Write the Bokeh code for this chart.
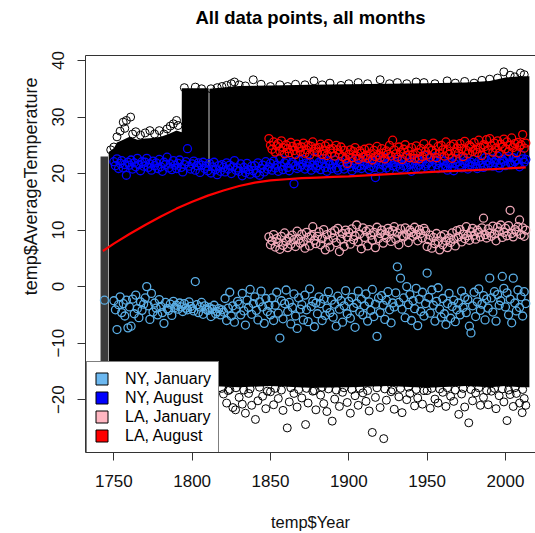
import math
from bokeh.plotting import figure
from bokeh.models import (Range1d, LinearAxis, FixedTicker, Legend,
                          LegendItem, Title)
from bokeh.embed import file_html
from bokeh.resources import INLINE

# ---------------- data ----------------
x_ticks = [1750, 1800, 1850, 1900, 1950, 2000]
y_ticks = [-20, -10, 0, 10, 20, 30, 40]

ny_jan_years = [1744] + list(range(1750, 2014))
ny_jan = [-2.4,
    -2.5, -4.1, -7.6, -3.2, -1.8, -4.6, -3.0, -5.2, -2.4, -7.3,
    -3.6, -7.0, -2.2, -4.8, -1.5, -3.9, -5.5, -2.7, -4.2, -3.1,
    -2.0, 0.0, -3.4, -5.8, -1.2, -4.5, -2.9, -3.8, -5.0, -2.3,
    -3.5, -4.6, -6.5, -2.8, -3.9, -4.2, -3.1, -5.1, -2.6, -3.7,
    -3.3, -4.0, -2.9, -3.6, -4.4, -3.0, -3.8, -4.1, -2.7, -3.5,
    -3.9, -4.3, 0.9, -3.2, -4.6, -3.6, -2.8, -4.9, -3.4, -4.0,
    -4.2, -3.7, -5.3, -4.0, -3.3, -4.8, -4.4, -3.9, -5.0, -4.1,
    -4.5, -2.1, -6.0, -3.8, -1.0, -5.2, -3.4, -6.3, -4.0, -2.6,
    -3.1, -5.0, -1.2, -4.3, -6.8, -2.4, -3.7, -0.5, -4.9, -3.0,
    -1.8, -4.2, -5.9, -2.7, -0.8, -3.6, -6.5, -2.1, -4.4, -3.3,
    -5.0, -2.0, -6.0, -3.3, -1.0, -4.7, -9.1, -2.5, -5.7, -3.0,
    -0.6, -4.4, -2.8, -6.6, -3.7, -1.3, -5.2, -7.4, -2.0, -4.0,
    -3.2, -5.9, -1.5, -4.1, -6.2, -0.4, -3.5, -2.6, -7.1, -2.9,
    -4.8, -1.8, -3.0, -6.0, -2.2, -5.1, -3.8, -0.9, -4.6, -2.4,
    -5.4, -3.1, -7.0, -1.7, -4.0, -2.5, -6.3, -3.4, -0.7, -4.8,
    -2.6, -5.6, -1.9, -3.7, -7.2, -3.0, -0.8, -4.5, -2.2, -5.0,
    -3.4, -1.3, -6.1, -2.7, -4.2, -0.5, -5.3, -3.1, -8.8, -2.0,
    -4.6, -1.6, -3.3, -5.8, -2.4, -0.9, -4.1, -6.4, -2.9, -3.6,
    -1.1, 3.5, -2.8, 1.5, -4.0, -2.0, -5.5, 0.0, -3.2, -1.4,
    -6.0, -2.5, -3.9, -0.3, -6.9, -2.2, -4.4, -1.0, -5.2, -3.0,
    2.4, -1.9, -4.7, -0.6, -3.3, -6.1, -2.6, -0.2, -4.0, -5.4,
    -2.1, -4.8, -6.7, -3.0, -1.2, -5.6, -3.5, -2.4, -6.2, -4.1,
    -2.9, -5.0, -0.8, -3.7, -1.9, -4.6, -2.3, -7.0, -8.2, -3.4,
    -1.0, -5.3, -2.7, -0.4, -4.2, -3.1, -1.6, -5.9, -2.2, -3.8,
    1.5, -2.0, -4.5, -0.9, -6.1, -1.4, -3.3, -2.5, 1.8, -0.3,
    -3.6, -1.1, -5.0, -2.2, -6.4, 1.5, -2.9, -4.3, -0.6, -3.7,
    -1.8, -5.2, -0.9, -3.0]

ny_aug_years = list(range(1750, 2014))
ny_aug = [
    22.1, 21.4, 22.6, 20.9, 21.8, 22.3, 21.0, 21.6, 19.7, 22.0,
    21.5, 22.4, 20.8, 21.9, 21.2, 22.7, 21.6, 20.5, 22.1, 21.3,
    22.0, 22.7, 21.1, 21.7, 20.6, 22.2, 21.4, 21.9, 20.9, 22.5,
    21.2, 20.4, 22.0, 21.6, 22.9, 21.0, 21.7, 20.7, 22.3, 21.5,
    20.9, 21.8, 22.4, 21.1, 20.3, 21.6, 22.1, 24.4, 21.3, 20.8,
    21.7, 22.2, 20.6, 21.4, 21.9, 20.2, 21.5, 22.0, 20.9, 21.3,
    20.5, 21.8, 20.1, 21.2, 22.0, 20.7, 19.8, 21.4, 20.4, 21.6,
    21.1, 20.3, 21.9, 20.8, 21.5, 20.0, 21.2, 22.3, 20.6, 21.0,
    20.4, 21.7, 19.6, 21.1, 20.2, 21.8, 20.7, 19.9, 21.3, 20.5,
    21.4, 20.1, 21.9, 19.7, 20.9, 21.5, 20.3, 22.1, 20.8, 21.2,
    21.8, 20.6, 22.2, 21.0, 21.5, 20.4, 22.6, 21.3, 20.7, 21.9,
    22.3, 21.1, 20.5, 21.7, 22.0, 18.2, 21.4, 20.9, 22.4, 21.2,
    21.6, 22.5, 20.8, 21.9, 21.3, 22.1, 20.6, 21.5, 22.8, 21.0,
    21.4, 22.0, 20.7, 21.8, 22.6, 21.1, 20.4, 22.2, 21.6, 20.9,
    21.7, 22.4, 21.0, 20.6, 21.9, 22.1, 21.3, 20.8, 22.5, 21.5,
    22.0, 21.2, 20.5, 22.3, 21.6, 21.0, 22.7, 21.4, 20.9, 22.1,
    21.5, 22.6, 21.8, 20.7, 21.3, 22.0, 21.1, 19.3, 22.4, 21.7,
    20.8, 22.1, 21.5, 22.8, 21.0, 21.9, 20.6, 22.3, 21.4, 22.0,
    21.2, 22.5, 21.7, 20.9, 22.2, 21.4, 22.9, 21.1, 22.0, 21.6,
    20.4, 21.8, 22.3, 21.0, 22.6, 21.5, 20.8, 22.1, 23.2, 21.3,
    21.7, 22.0, 22.8, 21.3, 22.4, 23.0, 21.6, 20.9, 21.9, 22.5,
    21.0, 22.2, 21.4, 20.6, 21.8, 22.0, 21.2, 20.5, 21.7, 22.6,
    22.1, 21.5, 21.0, 22.7, 21.8, 22.3, 20.8, 21.6, 22.0, 21.3,
    22.5, 21.7, 20.9, 22.2, 21.4, 21.9, 21.1, 22.8, 22.3, 21.5,
    21.9, 22.6, 21.3, 22.0, 22.4, 23.1, 21.0, 21.8, 22.5, 22.2,
    21.4, 22.7, 23.0, 21.9, 21.6, 22.8, 22.1, 22.4, 21.7, 21.2,
    23.3, 22.6, 22.0, 22.5]

la_years = list(range(1849, 2014))
la_jan = [8.8,
    7.4, 8.1, 9.2, 7.0, 8.5, 7.8, 6.6, 8.9, 7.3, 9.5,
    8.0, 6.9, 8.6, 7.5, 9.1, 8.3, 7.1, 9.8, 8.4, 7.7,
    9.3, 8.0, 6.8, 9.6, 8.7, 7.2, 9.0, 10.6, 8.2, 7.6,
    8.9, 9.7, 7.4, 8.5, 10.1, 6.5, 9.2, 8.1, 7.0, 9.5,
    8.6, 9.9, 7.8, 10.3, 6.2, 8.4, 9.4, 7.1, 10.0, 8.8,
    9.6, 7.5, 10.2, 8.3, 9.0, 10.9, 7.9, 9.3, 6.7, 10.4,
    8.7, 9.8, 7.2, 10.1, 9.1, 8.2, 9.6, 6.9, 10.5, 8.5,
    9.4, 10.0, 7.7, 9.2, 8.6, 10.3, 9.7, 8.0, 9.9, 10.6,
    8.4, 9.5, 7.4, 10.2, 9.0, 8.8, 10.4, 9.3, 7.8, 10.0,
    9.6, 8.9, 10.5, 9.2, 8.1, 10.1, 9.4, 8.6, 10.3, 9.8,
    7.1, 8.3, 9.1, 6.8, 8.7, 7.6, 9.4, 8.0, 6.5, 8.9,
    7.4, 9.2, 8.1, 6.9, 8.6, 7.8, 9.5, 8.4, 7.2, 9.9,
    8.8, 10.1, 7.9, 9.3, 8.5, 10.6, 9.0, 8.2, 9.7, 10.3,
    9.1, 8.4, 10.0, 9.6, 8.8, 10.4, 12.1, 9.2, 8.6, 10.2,
    9.5, 8.9, 10.7, 9.3, 8.1, 10.5, 9.8, 10.9, 8.7, 9.6,
    10.3, 9.0, 10.8, 13.5, 9.4, 8.8, 10.1, 9.7, 10.6, 11.8,
    9.2, 10.4, 8.9, 10.0]
la_aug = [26.2,
    25.0, 24.3, 25.6, 23.8, 24.9, 25.3, 24.0, 25.8, 24.6, 23.5,
    25.1, 24.4, 23.7, 25.5, 24.8, 24.1, 23.4, 25.2, 24.6, 23.9,
    24.7, 25.4, 23.6, 24.2, 25.0, 23.3, 24.8, 25.6, 23.9, 24.5,
    23.8, 24.6, 25.2, 23.4, 24.0, 24.9, 23.2, 25.3, 24.3, 23.6,
    24.4, 23.1, 25.0, 24.2, 23.5, 24.7, 23.0, 24.1, 22.6, 21.8,
    23.4, 24.2, 22.8, 23.9, 24.6, 23.1, 22.5, 24.0, 23.6, 22.9,
    24.3, 23.2, 22.7, 24.5, 23.5, 22.4, 24.1, 23.0, 24.8, 23.3,
    22.8, 24.4, 23.6, 22.6, 24.0, 23.4, 25.0, 23.1, 25.9, 24.2,
    23.5, 22.9, 24.7, 23.8, 22.5, 24.3, 25.1, 23.2, 24.0, 22.8,
    24.6, 23.4, 22.7, 24.9, 23.7, 22.6, 24.4, 23.0, 25.3, 23.9,
    23.3, 24.5, 22.9, 24.1, 25.4, 23.6, 22.8, 24.8, 23.5, 25.0,
    24.2, 23.1, 25.6, 24.0, 23.4, 24.9, 22.7, 25.2, 23.8, 24.5,
    23.6, 25.3, 24.4, 23.0, 25.7, 24.1, 23.5, 25.0, 24.7, 23.9,
    25.5, 24.3, 23.7, 25.9, 24.6, 23.2, 25.1, 24.8, 26.0, 24.2,
    26.2, 24.9, 23.8, 25.4, 24.5, 25.8, 23.6, 25.2, 24.7, 26.1,
    24.4, 25.6, 23.9, 25.0, 26.3, 24.6, 25.3, 23.7, 25.5, 24.8,
    25.1, 26.9, 24.5, 25.4]

# smooth fit drawn in red
fit_years = [1743, 1750, 1760, 1770, 1780, 1790, 1800, 1810, 1820, 1830,
             1840, 1850, 1860, 1870, 1880, 1890, 1900, 1920, 1940, 1960,
             1980, 2000, 2013]
fit_vals = [6.3, 7.6, 9.3, 10.9, 12.4, 13.8, 15.0, 16.1, 17.0, 17.8,
            18.4, 18.8, 19.0, 19.2, 19.3, 19.4, 19.5, 19.8, 20.1, 20.4,
            20.6, 20.9, 21.1]

# all other stations: dense cloud (outline of the solid black mass)
col_years = [1741.5, 1746.3]
col_top = [23.0, 23.0]
col_bottom = [-17.6, -17.6]

bc_years = [1746.7, 1750, 1752, 1756, 1760, 1765, 1770, 1775, 1780, 1785,
            1790, 1793.3, 1793.4, 1810.5]
bc_top = [23.8, 24.5, 25.5, 26.0, 26.5, 26.0, 26.2, 26.3, 26.5, 27.0,
          27.6, 27.3, 35.1, 35.1]
bc_bottom = [-17.6] * len(bc_years)

gap_years = [1810.0, 1811.4]
gap_top = [20.5, 20.5]
gap_bottom = [-17.6, -17.6]

d_years = [1811.0, 1830, 1850, 1875, 1900, 1925, 1950, 1975,
           1990, 2000, 2010, 2015.3]
d_top = [35.0, 35.5, 35.6, 35.7, 35.8, 35.9, 36.0, 36.1,
         36.4, 37.0, 37.2, 37.2]
d_bottom = [-17.6, -17.8, -17.6, -17.9, -17.8, -17.6, -17.9,
            -17.6, -17.8, -17.6, -17.8, -17.8]

# individual circles visible at the edges of the cloud
edge_years = [1748, 1750, 1752, 1754, 1756, 1757, 1758, 1760.7, 1762, 1764,
              1767, 1770, 1773, 1776, 1779, 1782, 1784, 1786, 1788, 1790,
              1791, 1792.5,
              1795, 1802, 1806, 1812, 1816, 1819, 1822, 1825, 1827, 1830,
              1834, 1839, 1844, 1850, 1856, 1861, 1866, 1872, 1877.8, 1883,
              1888, 1895, 1900, 1906, 1912, 1920, 1926, 1931, 1937, 1943,
              1948, 1955, 1962.8, 1968, 1974, 1980, 1985, 1990, 1995, 1999,
              2003, 2006, 2009.6, 2012,
              1820, 1822, 1824, 1826, 1827.7, 1830, 1832, 1834, 1836, 1838,
              1840.4, 1842, 1845, 1847, 1850, 1852, 1855, 1858, 1860.7, 1862,
              1865, 1867, 1870, 1872.4, 1874, 1877, 1879, 1882, 1884, 1886,
              1889.4, 1891, 1894, 1896, 1899, 1901, 1904, 1906, 1909, 1911,
              1913, 1915, 1917, 1920, 1922.3, 1924, 1927, 1929, 1932, 1934,
              1937, 1939, 1942, 1944, 1947, 1950, 1952, 1955, 1957, 1960,
              1962, 1965, 1967, 1970.2, 1972, 1974, 1976.6, 1979, 1981, 1984,
              1986, 1989, 1991, 1994, 1996, 1999, 2001, 2003, 2005, 2007,
              2009, 2010.7, 2012, 2013,
              1819, 1823, 1828, 1833, 1837, 1843, 1848, 1853, 1857, 1863,
              1868, 1873, 1878, 1883, 1887, 1892, 1897, 1902, 1907, 1912,
              1918, 1923, 1928, 1933, 1938, 1943, 1948, 1953, 1958, 1963,
              1968, 1973, 1978, 1983, 1988, 1993, 1998, 2002, 2006, 2011]
edge_vals = [24.2, 24.7, 26.5, 27.5, 29.1, 28.0, 29.4, 30.0, 27.0, 27.4,
             26.8, 27.2, 27.6, 27.0, 27.6, 27.0, 27.9, 28.4, 28.8, 29.4,
             28.5, 26.5,
             35.2, 35.3, 35.0, 35.0, 35.2, 35.4, 35.6, 35.9, 36.2, 35.7,
             35.5, 36.6, 35.8, 35.4, 35.7, 35.4, 35.8, 35.7, 36.4, 35.7,
             36.0, 35.6, 35.9, 36.1, 35.9, 36.6, 35.9, 36.1, 35.9, 36.2,
             36.1, 35.9, 36.4, 36.0, 36.3, 36.0, 36.5, 36.7, 36.9, 38.0,
             37.4, 37.1, 37.8, 37.5,
             -19.0, -20.6, -18.2, -21.4, -21.8, -19.6, -20.8, -22.4, -18.9, -21.0,
             -23.5, -20.2, -19.4, -21.6, -18.6, -20.9, -19.8, -21.9, -25.0, -20.4,
             -18.9, -21.3, -19.7, -24.4, -20.6, -18.5, -21.8, -19.2, -20.7, -22.1,
             -23.8, -19.9, -21.2, -18.7, -20.5, -22.4, -19.3, -21.0, -18.8, -20.3,
             -22.0, -25.8, -19.6, -21.4, -26.9, -20.1, -18.6, -21.7, -19.5, -22.3,
             -20.0, -18.9, -21.1, -19.7, -20.8, -18.4, -21.5, -19.9, -20.6, -18.7,
             -21.2, -19.4, -20.3, -22.6, -19.0, -21.3, -24.1, -20.2, -18.8, -21.0,
             -19.6, -20.9, -18.5, -21.6, -19.3, -20.4, -23.7, -19.1, -21.2, -18.9,
             -20.6, -22.3, -19.8, -21.0,
             -18.0, -18.4, -17.9, -18.3, -18.1, -17.8, -18.5, -18.0, -18.3, -17.9,
             -18.2, -18.0, -18.4, -17.8, -18.1, -18.3, -17.9, -18.2, -18.0, -18.4,
             -17.9, -18.1, -18.3, -18.0, -17.8, -18.2, -18.4, -18.0, -18.1, -17.9,
             -18.3, -18.0, -18.2, -17.9, -18.4, -18.0, -18.1, -18.3, -17.9, -18.2]

legend_labels = ["NY, January", "NY, August", "LA, January", "LA, August"]
legend_colors = ["#6CB8F0", "#0000FF", "#FFB6C1", "#FF0000"]
point_colors = ["#5AAEE6", "#0000FF", "#F0A8B8", "#FF0000"]

FONT = "Liberation Sans"
AX = "#333333"
TXT = "#111111"

# ---------------- figure ----------------
p = figure(width=535, height=533,
           x_range=Range1d(1731.9, 2019.2), y_range=Range1d(-29.35, 40.89),
           x_axis_type=None, y_axis_type=None, title_location=None,
           output_backend="svg", toolbar_location=None,
           min_border_left=85, min_border_right=0,
           min_border_top=55, min_border_bottom=80)
p.outline_line_color = None
p.background_fill_color = "white"
p.border_fill_color = "white"


def no_ticks(ax):
    ax.major_tick_out = 0
    ax.major_tick_in = 0
    ax.minor_tick_out = 0
    ax.minor_tick_in = 0


left = LinearAxis(ticker=FixedTicker(ticks=y_ticks),
                  major_label_orientation="vertical",
                  major_tick_out=8, major_tick_in=0,
                  minor_tick_out=0, minor_tick_in=0,
                  axis_line_color=AX, major_tick_line_color=AX,
                  major_label_text_font=FONT,
                  major_label_text_font_size="17px",
                  major_label_text_color=TXT,
                  major_label_standoff=13)
p.add_layout(left, "left")

# y-axis title, placed off-centre as in the original
ylab = Title(text="temp$AverageTemperature", align="right", offset=22,
             standoff=18, text_font=FONT, text_font_size="18px",
             text_font_style="normal", text_color=TXT)
p.add_layout(ylab, "left")

below = LinearAxis(ticker=FixedTicker(ticks=x_ticks),
                   major_tick_out=8, major_tick_in=0,
                   minor_tick_out=0, minor_tick_in=0,
                   axis_line_color=AX, major_tick_line_color=AX,
                   major_label_text_font=FONT,
                   major_label_text_font_size="17px",
                   major_label_text_color=TXT,
                   major_label_standoff=14,
                   axis_label="temp$Year",
                   axis_label_standoff=23,
                   axis_label_text_font=FONT,
                   axis_label_text_font_size="16.5px",
                   axis_label_text_font_style="normal",
                   axis_label_text_color=TXT)
p.add_layout(below, "below")

above = LinearAxis(ticker=FixedTicker(ticks=[]),
                   axis_line_color=AX, major_label_text_alpha=0,
                   major_label_standoff=0,
                   axis_label="All data points, all months",
                   axis_label_standoff=28,
                   axis_label_text_font=FONT,
                   axis_label_text_font_size="18.5px",
                   axis_label_text_font_style="bold",
                   axis_label_text_color="black")
no_ticks(above)
p.add_layout(above, "above")

# dense cloud of all data points
p.varea(x=col_years, y1=col_bottom, y2=col_top, fill_color="#3a3a3a")
p.varea(x=bc_years, y1=bc_bottom, y2=bc_top, fill_color="black")
p.varea(x=gap_years, y1=gap_bottom, y2=gap_top, fill_color="black")
p.varea(x=d_years, y1=d_bottom, y2=d_top, fill_color="black")
p.scatter(edge_years, edge_vals, marker="circle", size=8,
          fill_color=None, line_color="black", line_width=1)

# highlighted series
p.scatter(ny_jan_years, ny_jan, marker="circle", size=8, fill_color=None,
          line_color=point_colors[0], line_width=1.3)
p.scatter(ny_aug_years, ny_aug, marker="circle", size=8, fill_color=None,
          line_color=point_colors[1], line_width=1.3)
p.scatter(la_years, la_jan, marker="circle", size=8, fill_color=None,
          line_color=point_colors[2], line_width=1.3)
p.scatter(la_years, la_aug, marker="circle", size=8, fill_color=None,
          line_color=point_colors[3], line_width=1.3)

p.line(fit_years, fit_vals, line_color="#FF0000", line_width=2.2)

# legend (swatches are quads placed outside the visible range)
items = []
for lab, col in zip(legend_labels, legend_colors):
    r = p.quad(left=[1600], right=[1601], top=[-100], bottom=[-101],
               fill_color=col, line_color="black", line_width=1)
    items.append(LegendItem(label=lab, renderers=[r]))
legend = Legend(items=items, location=(1, -1), margin=0,
                border_line_color="black", border_line_width=1,
                background_fill_color="white", background_fill_alpha=1,
                padding=7, spacing=0, glyph_width=15, glyph_height=15,
                label_standoff=16, label_height=19,
                label_text_font=FONT, label_text_font_size="16px",
                label_text_color="black")
p.add_layout(legend)

open("out.html", "w").write(file_html(p, INLINE))
